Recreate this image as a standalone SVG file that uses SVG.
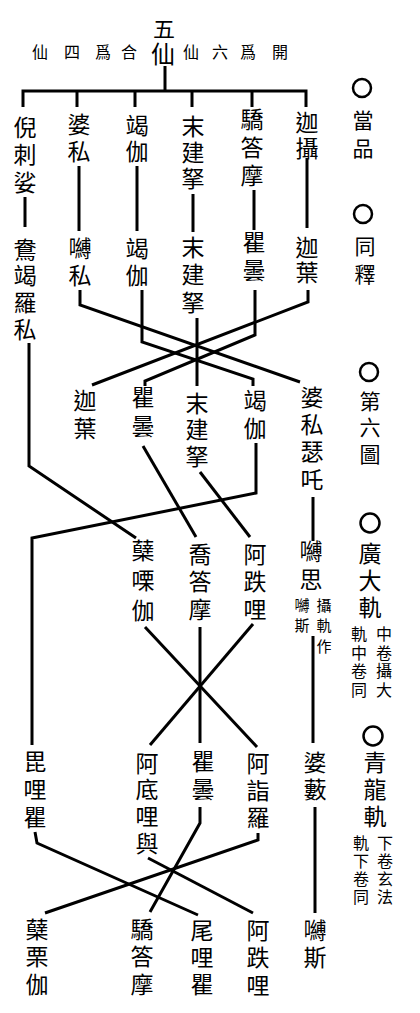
<svg xmlns="http://www.w3.org/2000/svg" width="420" height="1013" viewBox="0 0 420 1013">
<style>
text{font-family:"Noto Sans CJK TC","Noto Sans CJK SC",sans-serif;fill:#000}
.v{writing-mode:vertical-rl;text-orientation:upright;text-anchor:start}
.t{font-size:23px}
.h{font-size:16px;text-anchor:middle}
.s{font-size:16px}
.a{font-size:21px}
.l{fill:none;stroke:#000;stroke-width:3;stroke-linejoin:miter}
.c{fill:none;stroke:#000;stroke-width:2.5}
</style>
<rect width="420" height="1013" fill="#fff"/>
<g id="header">
<text class="v" x="164" y="18" style="font-size:22px">五</text>
<text class="h"><tspan x="40" y="58">仙</tspan><tspan x="72" y="58">四</tspan><tspan x="103" y="58">爲</tspan><tspan x="129" y="58">合</tspan><tspan x="191" y="58">仙</tspan><tspan x="220" y="58">六</tspan><tspan x="248" y="58">爲</tspan><tspan x="280" y="58">開</tspan></text>
<text class="v" x="163" y="42" style="font-size:24px">仙</text>
</g>
<g id="connectors" class="l">
<path d="M165,66V91"/>
<path d="M23,107V91H306V107"/>
<path d="M77,91V107M135,91V107M192,91V107M252,91V107"/>
<path d="M25,197V227M79,166V231M137,166V231M193,194V232M254,190V230M307,158V228"/>
<path d="M80,290V305L300,382"/>
<path d="M142,290V342L253,379V386"/>
<path d="M197,318V386"/>
<path d="M255,290V335L145,381V386"/>
<path d="M308,290V302L92,385"/>
<path d="M29,343V466L136,538"/>
<path d="M143,446L196,537"/>
<path d="M200,472L250,537"/>
<path d="M256,443V493L32,538V745"/>
<path d="M313,497V541"/>
<path d="M145,627L257,747"/>
<path d="M200,627V743"/>
<path d="M253,624L150,745"/>
<path d="M313,636V743"/>
<path d="M35,832L37,843L198,915"/>
<path d="M148,858L253,913"/>
<path d="M200,807V823L150,912"/>
<path d="M258,833V840L45,913"/>
<path d="M315,807V913"/>
</g>
<g id="n1"><text class="v t" x="25" y="115.5" letter-spacing="4.5">倪刺娑</text></g>
<g id="n2"><text class="v t" x="79" y="112.5" letter-spacing="4">婆私</text></g>
<g id="n3"><text class="v t" x="137" y="113.5" letter-spacing="3">竭伽</text></g>
<g id="n4"><text class="v t" x="193" y="114.5" letter-spacing="3">末建拏</text></g>
<g id="n5"><text class="v t" x="252" y="107.5" letter-spacing="5">驕答摩</text></g>
<g id="n6"><text class="v t" x="307" y="110.5" letter-spacing="3">迦攝</text></g>
<g id="n7"><text class="v t" x="25" y="237.5" letter-spacing="3.7">鴦竭羅私</text></g>
<g id="n8"><text class="v t" x="80" y="236.5" letter-spacing="4">嚩私</text></g>
<g id="n9"><text class="v t" x="137" y="236.5" letter-spacing="4">竭伽</text></g>
<g id="n10"><text class="v t" x="193" y="235.5" letter-spacing="4.5">末建拏</text></g>
<g id="n11"><text class="v t" x="254" y="230.5" letter-spacing="5">瞿曇</text></g>
<g id="n12"><text class="v t" x="307" y="235.5" letter-spacing="2">迦葉</text></g>
<g id="n13"><text class="v t" x="85" y="388.5" letter-spacing="5">迦葉</text></g>
<g id="n14"><text class="v t" x="143" y="385.5" letter-spacing="6">瞿曇</text></g>
<g id="n15"><text class="v t" x="197" y="391.5" letter-spacing="3.5">末建拏</text></g>
<g id="n16"><text class="v t" x="255" y="388.5" letter-spacing="5">竭伽</text></g>
<g id="n17"><text class="v t" x="312" y="385.5" letter-spacing="4.3">婆私瑟吒</text></g>
<g id="n18"><text class="v t" x="143" y="538.5" letter-spacing="7">蘖㗚伽</text></g>
<g id="n19"><text class="v t" x="200" y="542.5" letter-spacing="4.5">喬答摩</text></g>
<g id="n20"><text class="v t" x="255" y="542.5" letter-spacing="4.5">阿跌哩</text></g>
<g id="n21"><text class="v t" x="311" y="539.5" letter-spacing="5">嚩思</text>
<text class="v" x="302" y="597.5" style="font-size:15px" letter-spacing="5">嚩斯</text>
<text class="v" x="324" y="597.5" style="font-size:15px" letter-spacing="5.5">攝軌作</text></g>
<g id="n22"><text class="v t" x="35" y="749.5" letter-spacing="5">毘哩瞿</text></g>
<g id="n23"><text class="v t" x="147" y="751.5" letter-spacing="3.7">阿底哩與</text></g>
<g id="n24"><text class="v t" x="203" y="749.5" letter-spacing="5">瞿曇</text></g>
<g id="n25"><text class="v t" x="258" y="751.5" letter-spacing="4">阿詣羅</text></g>
<g id="n26"><text class="v t" x="315" y="750.5" letter-spacing="4">婆藪</text></g>
<g id="n27"><text class="v t" x="37" y="917.5" letter-spacing="4.5">蘖栗伽</text></g>
<g id="n28"><text class="v t" x="142" y="917.5" letter-spacing="4.5">驕答摩</text></g>
<g id="n29"><text class="v t" x="202" y="918.5" letter-spacing="4">尾哩瞿</text></g>
<g id="n30"><text class="v t" x="258" y="918.5" letter-spacing="4.5">阿跌哩</text></g>
<g id="n31"><text class="v t" x="315" y="918.5" letter-spacing="4">嚩斯</text></g>
<g id="a1"><circle class="c" cx="362" cy="88" r="9"/><text class="v a" x="363" y="109.5" letter-spacing="7">當品</text></g>
<g id="a2"><circle class="c" cx="363" cy="214" r="9"/><text class="v a" x="365" y="235.5" letter-spacing="7">同釋</text></g>
<g id="a3"><circle class="c" cx="369" cy="372" r="9"/><text class="v a" x="370" y="390.5" letter-spacing="5.5">第六圖</text></g>
<g id="a4"><circle class="c" cx="370" cy="523" r="9.5"/><text class="v t" x="370" y="541.5" letter-spacing="4">廣大軌</text>
<text class="v s" x="359" y="626" letter-spacing="2.7">軌中卷同</text>
<text class="v s" x="384" y="626" letter-spacing="2.7">中卷攝大</text></g>
<g id="a5"><circle class="c" cx="373" cy="736" r="9.5"/><text class="v t" x="375" y="750.5" letter-spacing="4">青龍軌</text>
<text class="v s" x="361" y="835" letter-spacing="2">軌下卷同</text>
<text class="v s" x="385" y="835" letter-spacing="2">下卷玄法</text></g>
</svg>
